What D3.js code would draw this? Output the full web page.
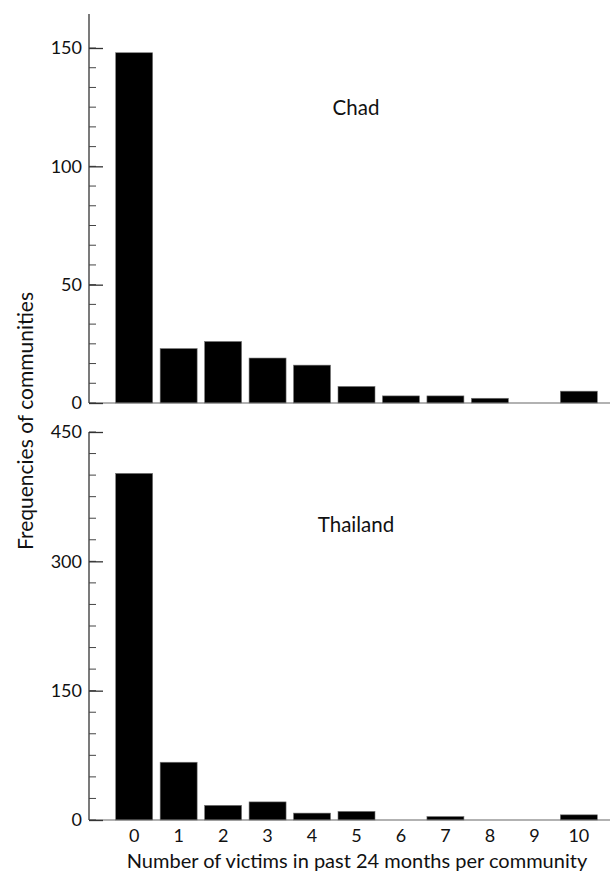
<!DOCTYPE html>
<html>
<head>
<meta charset="utf-8">
<script src="https://cdn.jsdelivr.net/npm/d3@7"></script>
<style>
  body { margin: 0; background: #fff; }
  text { font-family: "Lato", "DejaVu Sans", sans-serif; fill: #111; }
</style>
</head>
<body>
<div id="chart"></div>
<script>
// data
var victims = ["0", "1", "2", "3", "4", "5", "6", "7", "8", "9", "10"];
var chad = [148, 23, 26, 19, 16, 7, 3, 3, 2, 0, 5];
var thailand = [402, 67, 17, 21, 8, 10, 0, 4, 0, 0, 6];
var chadTicks = [0, 50, 100, 150];
var thailandTicks = [0, 150, 300, 450];

var width = 610, height = 873;
var axisX = 89;

var svg = d3.select("#chart").append("svg")
    .attr("width", width)
    .attr("height", height);

// shared x band scale
var x = d3.scaleBand()
    .domain(victims)
    .range([axisX, 624])
    .paddingInner(0.168)
    .paddingOuter(0.6);

function panel(values, ticks, y, topY, label, labelX, labelY) {
  var g = svg.append("g");
  var base = y(0);
  var step = ticks[1] / 6;

  // bars
  g.selectAll("rect")
    .data(values)
    .enter()
    .append("rect")
      .attr("x", function(d, i) { return x(victims[i]); })
      .attr("width", x.bandwidth())
      .attr("y", function(d) { return y(d); })
      .attr("height", function(d) { return base - y(d); })
      .attr("fill", "#000")
      .attr("stroke", "#777")
      .attr("stroke-width", 0.6);

  // baseline
  g.append("line")
    .attr("x1", axisX).attr("x2", width)
    .attr("y1", base).attr("y2", base)
    .attr("stroke", "#666").attr("stroke-width", 1.2);

  // y axis line
  g.append("line")
    .attr("x1", axisX).attr("x2", axisX)
    .attr("y1", topY).attr("y2", base)
    .attr("stroke", "#333").attr("stroke-width", 1.3);

  // minor ticks
  var minor = d3.range(0, ticks[ticks.length - 1] + 0.01, step);
  g.selectAll(".minor")
    .data(minor)
    .enter()
    .append("line")
      .attr("x1", axisX).attr("x2", axisX + 7)
      .attr("y1", function(d) { return y(d); })
      .attr("y2", function(d) { return y(d); })
      .attr("stroke", "#444").attr("stroke-width", 1);

  // major ticks + labels
  var ax = g.append("g")
    .attr("transform", "translate(" + axisX + ",0)")
    .call(d3.axisLeft(y).tickValues(ticks).tickSize(-14).tickPadding(7));
  ax.select(".domain").remove();
  ax.selectAll(".tick line").attr("stroke", "#333").attr("stroke-width", 1.3);
  ax.selectAll(".tick text")
    .attr("font-size", 18)
    .attr("font-family", "Lato, 'DejaVu Sans', sans-serif")
    .attr("fill", "#111");

  g.append("text")
    .attr("x", labelX).attr("y", labelY)
    .attr("text-anchor", "middle")
    .attr("font-size", 20.5)
    .text(label);
}

var yChad = d3.scaleLinear().domain([0, 150]).range([403, 48]);
panel(chad, chadTicks, yChad, 14, "Chad", 356, 115);

var yThai = d3.scaleLinear().domain([0, 450]).range([820, 432]);
panel(thailand, thailandTicks, yThai, 432, "Thailand", 356, 532);

// x tick labels
svg.append("g")
  .attr("transform", "translate(0,820)")
  .call(d3.axisBottom(x).tickSize(0).tickPadding(9))
  .call(function(g) {
    g.select(".domain").remove();
    g.selectAll(".tick text")
      .attr("font-size", 18)
      .attr("font-family", "Lato, 'DejaVu Sans', sans-serif")
      .attr("fill", "#111");
  });

// axis titles
svg.append("text")
  .attr("x", 357).attr("y", 868)
  .attr("text-anchor", "middle")
  .attr("font-size", 20)
  .text("Number of victims in past 24 months per community");

svg.append("text")
  .attr("transform", "translate(33,421) rotate(-90)")
  .attr("text-anchor", "middle")
  .attr("font-size", 21)
  .text("Frequencies of communities");
</script>
</body>
</html>
